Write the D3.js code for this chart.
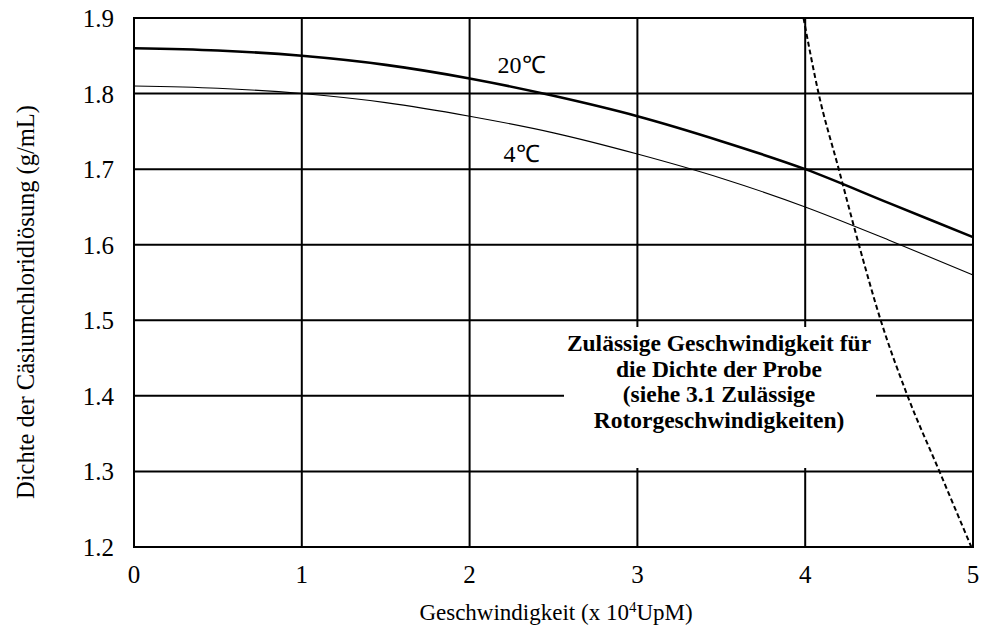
<!DOCTYPE html>
<html>
<head>
<meta charset="utf-8">
<script src="https://cdn.jsdelivr.net/npm/d3@7"></script>
<style>
  html, body { margin: 0; padding: 0; background: #fff; }
  svg { display: block; }
</style>
</head>
<body>
<svg id="chart" width="988" height="634"></svg>
<script>
// Density of CsCl solution vs. rotor speed (x 10^4 rpm)
const speed = [0, 0.5, 1, 1.5, 2, 2.5, 3, 3.5, 4, 4.5, 5];
const density20C = [1.86, 1.857, 1.85, 1.838, 1.82, 1.797, 1.77, 1.737, 1.70, 1.655, 1.61];
const density4C  = [1.81, 1.807, 1.80, 1.788, 1.77, 1.748, 1.72, 1.688, 1.65, 1.606, 1.56];

// Limit curve: allowed speed for a given sample density
const limitDensity = [1.9, 1.8, 1.7, 1.6, 1.5, 1.4, 1.3, 1.2];
const limitSpeed   = [3.99, 4.08, 4.2, 4.32, 4.45, 4.61, 4.8, 4.99];

const xTicks = [0, 1, 2, 3, 4, 5];
const yTicks = [1.2, 1.3, 1.4, 1.5, 1.6, 1.7, 1.8, 1.9];

const curveLabels = [
  { text: "20\u2103", x: 2.31, y: 1.827 },
  { text: "4\u2103",  x: 2.31, y: 1.709 }
];
const noteLines = [
  "Zulässige Geschwindigkeit für",
  "die Dichte der Probe",
  "(siehe 3.1 Zulässige",
  "Rotorgeschwindigkeiten)"
];

const svg = d3.select("#chart").attr("font-family", "Liberation Serif");
const x = d3.scaleLinear().domain([0, 5]).range([134, 973]);
const y = d3.scaleLinear().domain([1.2, 1.9]).range([547, 18]);

// grid
const grid = svg.append("g").attr("stroke", "#000").attr("stroke-width", 2);
grid.selectAll("line.v").data(xTicks.slice(1, -1)).join("line")
  .attr("x1", d => x(d)).attr("x2", d => x(d))
  .attr("y1", y(1.2)).attr("y2", y(1.9));
grid.selectAll("line.h").data(yTicks.slice(1, -1)).join("line")
  .attr("x1", x(0)).attr("x2", x(5))
  .attr("y1", d => y(d)).attr("y2", d => y(d));

// white panel behind the note
svg.append("rect")
  .attr("x", 564).attr("y", 327)
  .attr("width", 312).attr("height", 141)
  .attr("fill", "#fff");

// frame
svg.append("rect")
  .attr("x", x(0)).attr("y", y(1.9))
  .attr("width", x(5) - x(0)).attr("height", y(1.2) - y(1.9))
  .attr("fill", "none").attr("stroke", "#000").attr("stroke-width", 2);

const line = d3.line().curve(d3.curveMonotoneX);

svg.append("path")
  .attr("d", line(speed.map((s, i) => [x(s), y(density20C[i])])))
  .attr("fill", "none").attr("stroke", "#000").attr("stroke-width", 2.6);

svg.append("path")
  .attr("d", line(speed.map((s, i) => [x(s), y(density4C[i])])))
  .attr("fill", "none").attr("stroke", "#000").attr("stroke-width", 1.1);

svg.append("path")
  .attr("d", line(limitSpeed.map((s, i) => [x(s), y(limitDensity[i])])))
  .attr("fill", "none").attr("stroke", "#000").attr("stroke-width", 2)
  .attr("stroke-dasharray", "5,3");

// tick labels
svg.selectAll("text.yt").data(yTicks).join("text")
  .attr("class", "yt")
  .attr("x", x(0) - 20).attr("y", d => y(d) + 9)
  .attr("text-anchor", "end").attr("font-size", 25)
  .text(d => d.toFixed(1));

svg.selectAll("text.xt").data(xTicks).join("text")
  .attr("class", "xt")
  .attr("x", d => x(d)).attr("y", 583)
  .attr("text-anchor", "middle").attr("font-size", 25)
  .text(d => d);

// curve labels
svg.selectAll("text.cl").data(curveLabels).join("text")
  .attr("class", "cl")
  .attr("x", d => x(d.x)).attr("y", d => y(d.y))
  .attr("text-anchor", "middle").attr("font-size", 24)
  .text(d => d.text);

// note
svg.selectAll("text.note").data(noteLines).join("text")
  .attr("class", "note")
  .attr("x", 719).attr("y", (d, i) => 351 + i * 25.5)
  .attr("text-anchor", "middle").attr("font-size", 23.5).attr("font-weight", "bold")
  .text(d => d);

// axis titles
const xt = svg.append("text")
  .attr("x", 556).attr("y", 620)
  .attr("text-anchor", "middle").attr("font-size", 23);
xt.append("tspan").text("Geschwindigkeit (x 10");
xt.append("tspan").attr("font-size", 15).attr("dy", -8).text("4");
xt.append("tspan").attr("dy", 8).text("UpM)");

svg.append("text")
  .attr("transform", "translate(34,302) rotate(-90)")
  .attr("text-anchor", "middle").attr("font-size", 24.5)
  .text("Dichte der Cäsiumchloridlösung (g/mL)");
</script>
</body>
</html>
